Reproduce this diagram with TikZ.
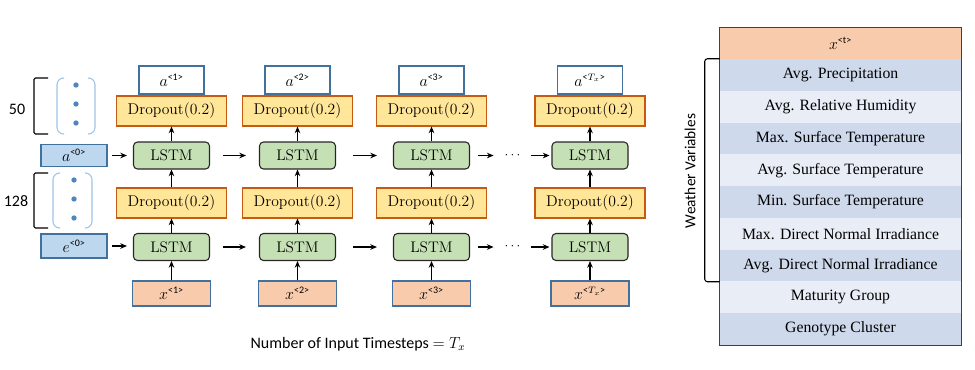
\documentclass[tikz,border=0pt]{standalone}
\usepackage{fontspec}
\usetikzlibrary{arrows.meta}
\newfontfamily\carl{Carlito}
\newfontfamily\tnr{Liberation Serif}
\newcommand\ssup[1]{^{\mbox{\carl\fontsize{7.5}{8}\selectfont #1}}}
\definecolor{dropfill}{HTML}{FFE699}
\definecolor{dropdraw}{HTML}{C55A11}
\definecolor{lstmfill}{HTML}{C5E0B4}
\definecolor{bluedraw}{HTML}{41719C}
\definecolor{xfill}{HTML}{F8CBAD}
\definecolor{a0fill}{HTML}{BDD7EE}
\definecolor{rowdark}{HTML}{CFD9EC}
\definecolor{rowlight}{HTML}{E9EDF6}
\definecolor{parcol}{HTML}{9DC3E6}
\definecolor{dotcol}{HTML}{4F86C0}
\definecolor{tabdraw}{HTML}{404040}
\tikzset{
  abox/.style={draw=bluedraw, fill=white, line width=0.8pt, minimum width=48.75pt, minimum height=21pt, inner sep=0pt, font=\fontsize{12}{14}\selectfont},
  dropbox/.style={draw=dropdraw, fill=dropfill, line width=0.8pt, minimum width=82.5pt, minimum height=22.5pt, inner sep=0pt, font=\fontsize{11.7}{14}\selectfont},
  lstmbox/.style={draw=black!85, fill=lstmfill, line width=0.8pt, rounded corners=3pt, minimum width=57pt, minimum height=20.25pt, inner sep=0pt, font=\fontsize{11.5}{14}\selectfont},
  xbox/.style={draw=bluedraw, fill=xfill, line width=0.8pt, minimum width=58.5pt, minimum height=18.75pt, inner sep=0pt, font=\fontsize{12}{14}\selectfont},
  initbox/.style={draw=bluedraw, fill=a0fill, line width=0.8pt, minimum width=49.5pt, inner sep=0pt, font=\fontsize{12}{14}\selectfont},
  arr/.style={-{Stealth[length=5pt,width=4.2pt]}, line width=0.8pt},
  rowbox/.style={minimum width=180.75pt, minimum height=23.85pt, inner sep=0pt, font=\tnr\fontsize{11.8}{14}\selectfont},
}
\begin{document}
\begin{tikzpicture}[x=0.75pt,y=-0.75pt]
\useasboundingbox (0,0) rectangle (975,369);

% columns
\foreach \i/\cx/\lab in {1/171.5/{\ssup{<1>}}, 2/297.5/{\ssup{<2>}}, 3/431.5/{\ssup{<3>}}, 4/590/{\ssup{<$T_x$>}}}{
  \node[abox] (a\i) at (\cx,80) {$a\lab$};
  \node[dropbox] (dt\i) at (\cx,111) {Dropout(0.2)};
  \node[lstmbox] (lt\i) at (\cx,155.5) {LSTM};
  \node[dropbox] (db\i) at (\cx,203) {Dropout(0.2)};
  \node[lstmbox] (lb\i) at (\cx,247) {LSTM};
  \node[xbox] (x\i) at (\cx,293.5) {$x\lab$};
  \draw[arr] (x\i) -- (lb\i);
  \draw[arr] (lb\i) -- (db\i);
  \draw[arr] (db\i) -- (lt\i);
  \draw[arr] (lt\i) -- (dt\i);
}

% initial states
\node[initbox, minimum height=17pt] (a0) at (74,155.5) {$a\ssup{<0>}$};
\node[initbox, minimum height=18pt] (e0) at (74,246) {$e\ssup{<0>}$};
\draw[arr, shorten <=3.5pt, shorten >=4.5pt] (a0) -- (lt1);
\draw[arr, shorten <=3.5pt, shorten >=4.5pt] (e0) -- (lb1.west |- e0);

% horizontal connections
\foreach \r in {t,b}{
  \draw[arr, shorten <=9.75pt, shorten >=9.75pt] (l\r1) -- (l\r2);
  \draw[arr, shorten <=13pt, shorten >=12pt] (l\r2) -- (l\r3);
}
\node[inner sep=0pt, minimum width=15pt] (dt) at (512.5,155.5) {$\cdots$};
\node[inner sep=0pt, minimum width=15pt] (dbb) at (512.5,247) {$\cdots$};
\draw[arr, shorten <=6pt, shorten >=6.5pt] (lt3) -- (dt);
\draw[arr, shorten <=6pt, shorten >=1.5pt] (dt) -- (lt4);
\draw[arr, shorten <=6pt, shorten >=6.5pt] (lb3) -- (dbb);
\draw[arr, shorten <=6pt, shorten >=1.5pt] (dbb) -- (lb4);

% brackets and vectors
\draw[line width=0.8pt, rounded corners=1pt] (48,78) -- (34,78) -- (34,134) -- (48,134);
\draw[line width=0.8pt, rounded corners=1pt] (48,173) -- (34,173) -- (34,228) -- (48,228);
\node[font=\carl\fontsize{12}{14}\selectfont] (n50) at (17,109) {50};
\node[font=\carl\fontsize{12}{14}\selectfont] (n128) at (16,201) {128};
\draw[parcol, line width=0.8pt, rounded corners=5pt] (64,78) -- (57,78) -- (57,134) -- (64,134);
\draw[parcol, line width=0.8pt, rounded corners=5pt] (88,78) -- (95,78) -- (95,134) -- (88,134);
\draw[parcol, line width=0.8pt, rounded corners=5pt] (60,173) -- (53,173) -- (53,228) -- (60,228);
\draw[parcol, line width=0.8pt, rounded corners=5pt] (85,173) -- (92,173) -- (92,228) -- (85,228);
\foreach \y in {85,104,123} \fill[dotcol] (76,\y) circle (2pt);
\foreach \y in {180,199,218} \fill[dotcol] (74,\y) circle (2pt);

% caption
\node[font=\carl\fontsize{12}{14}\selectfont] (cap) at (358,344) {Number of Input Timesteps $= T_x$};

% table
\node[rowbox, fill=xfill] (hd) at (840.5,43.5) {$x\ssup{<t>}$};
\foreach \k/\txt in {1/Avg. Precipitation, 2/Avg. Relative Humidity, 3/Max. Surface Temperature, 4/Avg. Surface Temperature, 5/Min. Surface Temperature, 6/Max. Direct Normal Irradiance, 7/Avg. Direct Normal Irradiance, 8/Maturity Group, 9/Genotype Cluster}{
  \pgfmathsetmacro\yy{59+(\k-0.5)*31.78}
  \pgfmathtruncatemacro\odd{mod(\k,2)}
  \ifnum\odd=1 \def\rc{rowdark}\else\def\rc{rowlight}\fi
  \node[rowbox, fill=\rc] (r\k) at (840.5,\yy) {\txt};
}
\draw[tabdraw, line width=0.9pt] (hd.north west) rectangle (r9.south east);
\draw[line width=0.8pt, rounded corners=2pt] (r1.north west) -- ++(-15,0) |- (r7.south west);
\node[rotate=90, font=\carl\fontsize{11.5}{14}\selectfont] (wv) at (690,171) {Weather Variables};
\end{tikzpicture}
\end{document}
